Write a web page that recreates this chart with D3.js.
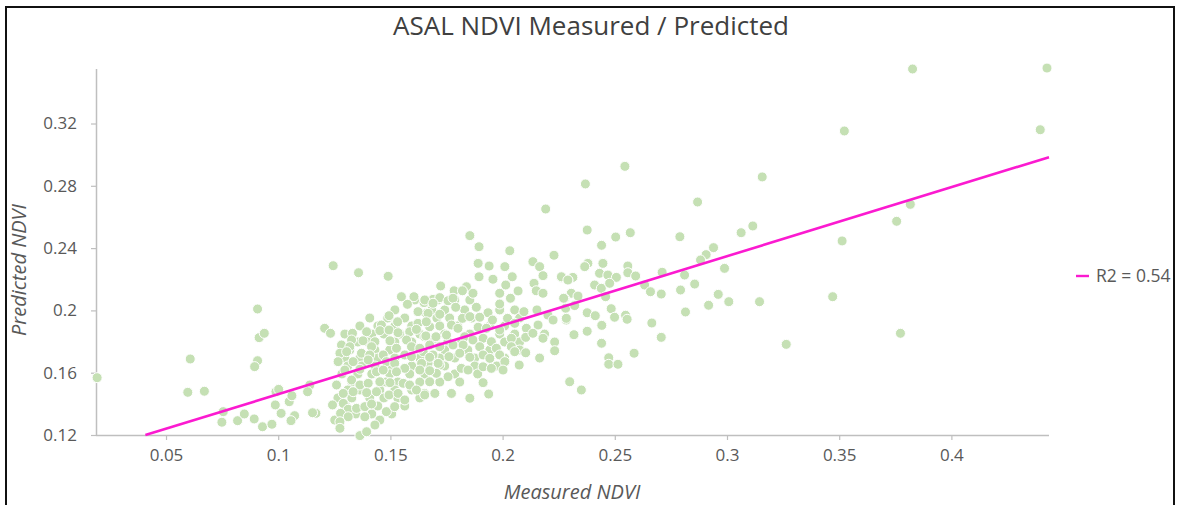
<!DOCTYPE html>
<html lang="en">
<meta charset="utf-8">
<head>
    <script src='https://d3js.org/d3.v7.min.js'></script>
    <style>
        body { margin: 0; background: #fff; }
        svg { display: block; }
        text { font-family: 'Open Sans', 'Noto Sans', sans-serif; }
    </style>
</head>
<body>
<script>

// measured / predicted NDVI
var measured = [
    0.3827, 0.4426, 0.3523, 0.4396, 0.3157, 0.3817, 0.3756, 0.3513, 0.3471, 0.3145, 0.3773, 0.3264,
    0.2545, 0.2369, 0.2869, 0.2377, 0.2569, 0.2504, 0.2790, 0.3063, 0.3115, 0.2441, 0.2940, 0.2907,
    0.2882, 0.2380, 0.2447, 0.2366, 0.2432, 0.2469, 0.2558, 0.2558, 0.2593, 0.2507, 0.2711, 0.2811,
    0.2989, 0.2262, 0.2313, 0.2291, 0.2410, 0.2440, 0.2477, 0.2633, 0.2856, 0.2659, 0.2707, 0.2793,
    0.2961, 0.3008, 0.2918, 0.2306, 0.2276, 0.2336, 0.2459, 0.2281, 0.2321, 0.2377, 0.2413, 0.2484,
    0.2499, 0.2548, 0.2555, 0.2284, 0.2442, 0.2665, 0.2815, 0.2707, 0.2318, 0.2377, 0.2441, 0.2586,
    0.2473, 0.2473, 0.2514, 0.2299, 0.2351, 0.2192,
    0.1854, 0.1895, 0.2032, 0.2229, 0.1891, 0.1940, 0.2010, 0.2135, 0.2165, 0.2180, 0.1895, 0.1957,
    0.2043, 0.2140, 0.2014, 0.1839, 0.1724, 0.1784, 0.1821, 0.1868, 0.1987, 0.2069, 0.2150, 0.2180,
    0.2262, 0.2291, 0.1690, 0.1720, 0.1757, 0.1779, 0.1650, 0.1791, 0.1883, 0.1935, 0.1987, 0.2035,
    0.2095, 0.2153, 0.2202, 0.2272, 0.2284, 0.1660, 0.1720, 0.1821, 0.1854, 0.1898, 0.1955, 0.2022,
    0.2054, 0.2106, 0.2158, 0.2225, 0.1772, 0.1801, 0.1891, 0.1928, 0.1987, 0.1675, 0.1653, 0.1698,
    0.1750, 0.1831, 0.1868, 0.1913, 0.1950, 0.2039, 0.2103, 0.2180, 0.2135, 0.1779, 0.1824, 0.1898,
    0.1972, 0.2039, 0.1720, 0.1646, 0.1690, 0.1761, 0.1809, 0.1854, 0.1913, 0.1943, 0.1987, 0.2054,
    0.2103, 0.2232, 0.1668, 0.1720, 0.1816, 0.1846, 0.1913, 0.1950, 0.2010, 0.2074, 0.1705, 0.1757,
    0.2002, 0.1675, 0.1913, 0.1772, 0.1854, 0.1938, 0.1653, 0.1698,
    0.1358, 0.1490, 0.1549, 0.1576, 0.1605, 0.1653, 0.1690, 0.1623, 0.1668, 0.1494, 0.1532, 0.1460,
    0.1623, 0.1660, 0.1207, 0.1233, 0.1331, 0.1394, 0.1453, 0.1494, 0.1534, 0.1586, 0.1616, 0.1658,
    0.1703, 0.1327, 0.1378, 0.1431, 0.1498, 0.1572, 0.1282, 0.1319, 0.1416, 0.1527, 0.1594, 0.1631,
    0.1675, 0.1275, 0.1305, 0.1371, 0.1408, 0.1468, 0.1564, 0.1594, 0.1675, 0.1267, 0.1334, 0.1401,
    0.1482, 0.1519, 0.1564, 0.1639, 0.1713, 0.1297, 0.1364, 0.1438, 0.1468, 0.1527, 0.1631, 0.1675,
    0.1141, 0.1260, 0.1327, 0.1364, 0.1401, 0.1453, 0.1498, 0.1557, 0.1586, 0.1616, 0.1653, 0.1290,
    0.1334, 0.1394, 0.1438, 0.1494, 0.1534, 0.1564, 0.1242, 0.1290, 0.1312, 0.1349, 0.1386, 0.1416,
    0.1482, 0.1519, 0.1168, 0.1278, 0.1312, 0.1386, 0.1275, 0.1275, 0.1431, 0.1364, 0.1394, 0.1245,
    0.0193, 0.0608, 0.0597, 0.0671, 0.0908, 0.0915, 0.0938, 0.0908, 0.0895, 0.0755, 0.0749, 0.0819,
    0.0849, 0.0893, 0.0930, 0.0972, 0.0990, 0.1002, 0.0987, 0.1013, 0.1049, 0.1061, 0.1073, 0.1057,
    0.1131, 0.1153
];
var predicted = [
    0.3550, 0.3556, 0.3152, 0.3160, 0.2857, 0.2681, 0.2572, 0.2446, 0.2088, 0.2056, 0.1853, 0.1782,
    0.2925, 0.2812, 0.2696, 0.2516, 0.2499, 0.2471, 0.2473, 0.2499, 0.2542, 0.2418, 0.2403, 0.2358,
    0.2324, 0.2302, 0.2302, 0.2281, 0.2238, 0.2227, 0.2285, 0.2242, 0.2221, 0.2212, 0.2245, 0.2227,
    0.2270, 0.2212, 0.2212, 0.2195, 0.2163, 0.2142, 0.2174, 0.2163, 0.2169, 0.2120, 0.2105, 0.2131,
    0.2103, 0.2056, 0.2033, 0.2110, 0.2078, 0.2092, 0.2088, 0.2014, 0.2031, 0.1985, 0.1966, 0.2011,
    0.1956, 0.1969, 0.1943, 0.1938, 0.1904, 0.1919, 0.1990, 0.1827, 0.1844, 0.1866, 0.1789, 0.1725,
    0.1696, 0.1654, 0.1654, 0.1542, 0.1489, 0.2651,
    0.2480, 0.2409, 0.2383, 0.2354, 0.2302, 0.2285, 0.2281, 0.2313, 0.2281, 0.2223, 0.2216, 0.2200,
    0.2216, 0.2174, 0.2163, 0.2152, 0.2157, 0.2126, 0.2126, 0.2110, 0.2110, 0.2125, 0.2126, 0.2110,
    0.2216, 0.2195, 0.2071, 0.2082, 0.2062, 0.2078, 0.2050, 0.2020, 0.2020, 0.1985, 0.2041, 0.2078,
    0.1992, 0.2003, 0.1970, 0.2078, 0.1949, 0.1981, 0.1975, 0.1949, 0.1960, 0.1956, 0.1938, 0.1949,
    0.1917, 0.1885, 0.1906, 0.1938, 0.1906, 0.1885, 0.1892, 0.1885, 0.1874, 0.1895, 0.1831, 0.1821,
    0.1842, 0.1831, 0.1810, 0.1821, 0.1799, 0.1821, 0.1827, 0.1821, 0.1853, 0.1778, 0.1778, 0.1767,
    0.1757, 0.1767, 0.1767, 0.1735, 0.1714, 0.1703, 0.1725, 0.1699, 0.1714, 0.1692, 0.1714, 0.1735,
    0.1728, 0.1741, 0.1660, 0.1649, 0.1628, 0.1617, 0.1638, 0.1628, 0.1671, 0.1649, 0.1596, 0.1574,
    0.1617, 0.1542, 0.1536, 0.1467, 0.1436, 0.1463, 0.1467, 0.1467,
    0.2242, 0.2219, 0.2088, 0.2039, 0.2088, 0.2067, 0.2046, 0.1992, 0.1981, 0.1966, 0.1927, 0.1906,
    0.1917, 0.1927, 0.1885, 0.1853, 0.1853, 0.1863, 0.1870, 0.1874, 0.1857, 0.1863, 0.1878, 0.1836,
    0.1831, 0.1810, 0.1805, 0.1799, 0.1805, 0.1810, 0.1778, 0.1767, 0.1767, 0.1757, 0.1767, 0.1757,
    0.1778, 0.1725, 0.1735, 0.1725, 0.1714, 0.1714, 0.1714, 0.1703, 0.1699, 0.1671, 0.1671, 0.1682,
    0.1671, 0.1660, 0.1628, 0.1660, 0.1660, 0.1617, 0.1622, 0.1606, 0.1617, 0.1606, 0.1617, 0.1613,
    0.1521, 0.1521, 0.1553, 0.1521, 0.1532, 0.1542, 0.1536, 0.1532, 0.1521, 0.1489, 0.1457, 0.1467,
    0.1478, 0.1472, 0.1478, 0.1457, 0.1467, 0.1425, 0.1393, 0.1403, 0.1365, 0.1371, 0.1382, 0.1399,
    0.1350, 0.1382, 0.1339, 0.1339, 0.1317, 0.1317, 0.1285, 0.1243, 0.1264, 0.1196, 0.1221, 0.2287,
    0.1568, 0.1688, 0.1474, 0.1481, 0.2009, 0.1825, 0.1853, 0.1677, 0.1639, 0.1350, 0.1282, 0.1292,
    0.1335, 0.1303, 0.1253, 0.1269, 0.1478, 0.1493, 0.1393, 0.1339, 0.1414, 0.1452, 0.1324, 0.1292,
    0.1478, 0.1343
];

// points half hidden inside the dense cluster (overlapping markers)
var measuredCore = [
    0.1609, 0.1711, 0.1787, 0.1854,
    0.1520, 0.1684, 0.1742, 0.1831, 0.1987, 0.2054,
    0.1408, 0.1488, 0.1564, 0.1707, 0.1764, 0.1862, 0.2076,
    0.1364, 0.1444, 0.1520, 0.1595, 0.1720, 0.1800, 0.1943, 0.2009,
    0.1297, 0.1417, 0.1471, 0.1542, 0.1631, 0.1742, 0.1854, 0.1987, 0.2054, 0.2187,
    0.1355, 0.1399, 0.1520, 0.1595, 0.1675, 0.1756, 0.1818, 0.2009, 0.2076, 0.2232,
    0.1319, 0.1431, 0.1497, 0.1631, 0.1742, 0.1845, 0.1943, 0.2076,
    0.1297, 0.1364, 0.1444, 0.1520, 0.1631, 0.1720, 0.1787, 0.1876, 0.2009, 0.2165,
    0.1310, 0.1373, 0.1431, 0.1497, 0.1595, 0.1742, 0.1876, 0.1974,
    0.1284, 0.1355, 0.1417, 0.1497, 0.1586, 0.1653, 0.1787, 0.1889,
    0.1328, 0.1480, 0.1533, 0.1631, 0.1720, 0.1809,
    0.1310, 0.1364, 0.1453, 0.1520, 0.1595,
    0.1266, 0.1328, 0.1408, 0.1471, 0.1533, 0.1631,
    0.1301, 0.1444, 0.1564,
    0.1346, 0.1417, 0.1506,
    0.1252, 0.1453
];
var predictedCore = [
    0.2067, 0.2067, 0.2067, 0.2067,
    0.2003, 0.2003, 0.2003, 0.2003, 0.2003, 0.2003,
    0.1951, 0.1951, 0.1951, 0.1951, 0.1951, 0.1951, 0.1951,
    0.1900, 0.1900, 0.1900, 0.1900, 0.1900, 0.1900, 0.1900, 0.1900,
    0.1848, 0.1848, 0.1848, 0.1848, 0.1848, 0.1848, 0.1848, 0.1848, 0.1848, 0.1848,
    0.1797, 0.1797, 0.1797, 0.1797, 0.1797, 0.1797, 0.1797, 0.1797, 0.1797, 0.1797,
    0.1746, 0.1746, 0.1746, 0.1746, 0.1746, 0.1746, 0.1746, 0.1746,
    0.1694, 0.1694, 0.1694, 0.1694, 0.1694, 0.1694, 0.1694, 0.1694, 0.1694, 0.1694,
    0.1643, 0.1643, 0.1643, 0.1643, 0.1643, 0.1643, 0.1643, 0.1643,
    0.1592, 0.1592, 0.1592, 0.1592, 0.1592, 0.1592, 0.1592, 0.1592,
    0.1540, 0.1540, 0.1540, 0.1540, 0.1540, 0.1540,
    0.1489, 0.1489, 0.1489, 0.1489, 0.1489,
    0.1438, 0.1438, 0.1438, 0.1438, 0.1438, 0.1438,
    0.1386, 0.1386, 0.1386,
    0.1335, 0.1335, 0.1335,
    0.1296, 0.1296
];

// linear trendline (Excel), drawn from where it enters the plot to the right edge
var trendX = [0.0408, 0.4435];
var trendSlope = 0.443;
var trendIntercept = 0.1019;
var legendLabel = "R2 = 0.54";

var xTicks = [0.05, 0.1, 0.15, 0.2, 0.25, 0.3, 0.35, 0.4];
var yTicks = [0.12, 0.16, 0.2, 0.24, 0.28, 0.32];
var xDomain = [0.0188, 0.4435];
var yDomain = [0.12, 0.355];

var width = 1178, height = 505;
// note: "top" is a reserved window global, so plot edges get their own names
var plotLeft = 96, plotRight = 1049, plotTop = 69, plotBottom = 435;
var axisColor = "#bfbfbf", textColor = "#595959";

var svg = d3.select("body").append("svg")
    .attr("width", width)
    .attr("height", height);

// frame
svg.append("rect")
    .attr("x", 6).attr("y", 7)
    .attr("width", 1168).attr("height", 510)
    .attr("fill", "#fff")
    .attr("stroke", "#111")
    .attr("stroke-width", 2);

var x = d3.scaleLinear().domain(xDomain).range([plotLeft, plotRight]);
var y = d3.scaleLinear().domain(yDomain).range([plotBottom, plotTop]);

function fmt(d) { return String(+d.toFixed(2)); }

// axes
var xAxis = svg.append("g")
    .attr("transform", "translate(0," + plotBottom + ")")
    .call(d3.axisBottom(x).tickValues(xTicks).tickSize(5).tickPadding(9).tickFormat(fmt));
var yAxis = svg.append("g")
    .attr("transform", "translate(" + plotLeft + ",0)")
    .call(d3.axisLeft(y).tickValues(yTicks).tickSize(5).tickPadding(14).tickFormat(fmt));

[xAxis, yAxis].forEach(function(g) {
    g.select(".domain").attr("stroke", axisColor).attr("stroke-width", 1.5);
    g.selectAll(".tick line").attr("stroke", axisColor).attr("stroke-width", 1.2);
    g.selectAll(".tick text")
        .attr("fill", textColor)
        .style("font-size", "17px")
        .style("font-family", "'Open Sans', sans-serif");
});
xAxis.select(".domain").attr("d", "M" + plotLeft + ",0.5H" + plotRight);
yAxis.select(".domain").attr("d", "M0.5," + plotTop + "V" + plotBottom);

// points
var points = measuredCore.map(function(m, i) { return {x: m, y: predictedCore[i]}; })
    .concat(measured.map(function(m, i) { return {x: m, y: predicted[i]}; }));

svg.append("g")
    .selectAll("circle")
    .data(points)
    .join("circle")
    .attr("cx", function(d) { return x(d.x); })
    .attr("cy", function(d) { return y(d.y); })
    .attr("r", 5)
    .attr("fill", "#c5e0b4")
    .attr("stroke", "#fff")
    .attr("stroke-width", 1);

// trendline
var trend = trendX.map(function(v) { return {x: v, y: trendIntercept + trendSlope * v}; });
svg.append("path")
    .datum(trend)
    .attr("fill", "none")
    .attr("stroke", "#fb1ad0")
    .attr("stroke-width", 2.6)
    .attr("d", d3.line()
        .x(function(d) { return x(d.x); })
        .y(function(d) { return y(d.y); })
    );

// title
svg.append("text")
    .attr("x", 591).attr("y", 35)
    .attr("text-anchor", "middle")
    .attr("fill", "#404040")
    .style("font-size", "26px")
    .text("ASAL NDVI Measured / Predicted");

// axis titles
svg.append("text")
    .attr("x", 572).attr("y", 499)
    .attr("text-anchor", "middle")
    .attr("fill", textColor)
    .style("font-size", "20px")
    .style("font-style", "italic")
    .text("Measured NDVI");

svg.append("text")
    .attr("transform", "translate(26,270) rotate(-90)")
    .attr("text-anchor", "middle")
    .attr("fill", textColor)
    .style("font-size", "20px")
    .style("font-style", "italic")
    .text("Predicted NDVI");

// legend
svg.append("line")
    .attr("x1", 1076).attr("x2", 1089)
    .attr("y1", 276).attr("y2", 276)
    .attr("stroke", "#fb1ad0")
    .attr("stroke-width", 2.4);
svg.append("text")
    .attr("x", 1096).attr("y", 282)
    .attr("fill", textColor)
    .style("font-size", "17.5px")
    .text(legendLabel);

</script>
</body>
</html>
